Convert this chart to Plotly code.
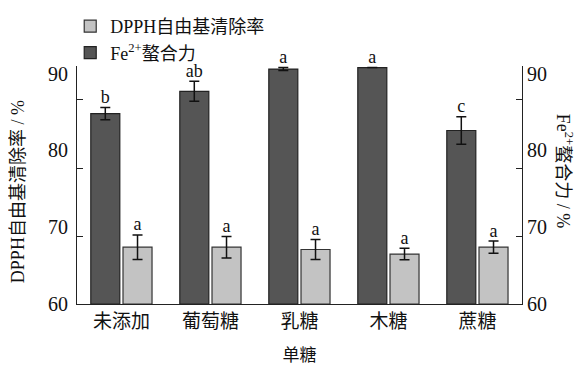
import plotly.graph_objects as go

categories = ["未添加", "葡萄糖", "乳糖", "木糖", "蔗糖"]
fe_values = [84.8, 87.7, 90.6, 90.8, 82.6]
fe_errors = [0.8, 1.3, 0.2, 0.0, 1.8]
fe_letters = ["b", "ab", "a", "a", "c"]
dpph_values = [67.4, 67.4, 67.1, 66.5, 67.4]
dpph_errors = [1.6, 1.4, 1.3, 0.75, 0.8]
dpph_letters = ["a", "a", "a", "a", "a"]
y_ticks = [60, 70, 80, 90]
inner_ticks = [68.8, 77.7, 86.6]

SERIF = "Liberation Serif, Noto Sans CJK SC, serif"
xs = list(range(len(categories)))
W = 0.326
OFF_FE = -0.345
OFF_DP = 0.017

fig = go.Figure()
fig.add_trace(go.Bar(
    x=xs, y=[v - 60 for v in dpph_values], base=60, name="DPPH自由基清除率",
    width=W, offset=OFF_DP,
    marker=dict(color="#c3c3c3", line=dict(color="#333333", width=1.2)),
    error_y=dict(type="data", array=dpph_errors, color="#111111", thickness=1.5, width=5),
))
fig.add_trace(go.Bar(
    x=xs, y=[v - 60 for v in fe_values], base=60, name="Fe<sup>2+</sup>螯合力",
    width=W, offset=OFF_FE,
    marker=dict(color="#555555", line=dict(color="#222222", width=1.2)),
    error_y=dict(type="data", array=fe_errors, color="#111111", thickness=1.5, width=5),
))
fig.add_trace(go.Scatter(
    x=[i + OFF_FE + W / 2 for i in xs], y=[v + e for v, e in zip(fe_values, fe_errors)],
    text=fe_letters, mode="text", textposition="top center",
    textfont=dict(family=SERIF, size=18, color="#111"), showlegend=False, cliponaxis=False,
))
fig.add_trace(go.Scatter(
    x=[i + OFF_DP + W / 2 for i in xs], y=[v + e for v, e in zip(dpph_values, dpph_errors)],
    text=dpph_letters, mode="text", textposition="top center",
    textfont=dict(family=SERIF, size=18, color="#111"), showlegend=False, cliponaxis=False,
))
fig.add_trace(go.Scatter(x=[0], y=[60], yaxis="y2", mode="markers",
                         marker=dict(opacity=0), showlegend=False, hoverinfo="skip"))

yax = dict(
    range=[60, 91.0], tickmode="array", tickvals=y_ticks, ticks="", showgrid=False,
    showline=True, linecolor="#222", linewidth=1.2, zeroline=False,
    tickfont=dict(family=SERIF, size=20, color="#111"),
    minor=dict(tickmode="array", tickvals=inner_ticks, ticks="inside", ticklen=6,
               tickcolor="#222", tickwidth=1.2, showgrid=False),
)
fig.update_layout(
    width=587, height=367,
    margin=dict(l=69, r=73, t=58, b=71, autoexpand=False),
    paper_bgcolor="white", plot_bgcolor="white",
    barmode="overlay",
    showlegend=True,
    legend=dict(x=0.106, y=1.01, xref="container", yref="container",
                xanchor="left", yanchor="top", traceorder="normal",
                font=dict(family=SERIF, size=18, color="#111"), bgcolor="rgba(0,0,0,0)",
                tracegroupgap=0, itemwidth=30),
    xaxis=dict(
        range=[-0.5, 4.5], tickmode="array", tickvals=xs, ticktext=categories,
        ticks="", showline=True, linecolor="#222", linewidth=1.2, showgrid=False,
        zeroline=False, tickfont=dict(family=SERIF, size=19, color="#111"),
        title=dict(text="单糖", font=dict(family=SERIF, size=17, color="#111"), standoff=18),
    ),
    yaxis=dict(yax, ticklabelstandoff=4),
    yaxis2=dict(yax, overlaying="y", side="right", ticklabelstandoff=0),
    annotations=[
        dict(text="DPPH自由基清除率 / %", x=0, xref="paper", y=0.47, yref="paper",
             xanchor="center", yanchor="middle", textangle=-90, showarrow=False,
             xshift=-59, font=dict(family=SERIF, size=18, color="#111")),
        dict(text="Fe<sup>2+</sup>螯合力 / %", x=1.0, xref="paper", y=0.56, yref="paper",
             xanchor="center", yanchor="middle", textangle=90, showarrow=False,
             xshift=42, font=dict(family=SERIF, size=18, color="#111")),
    ],
)

fig.write_html("out.html")
